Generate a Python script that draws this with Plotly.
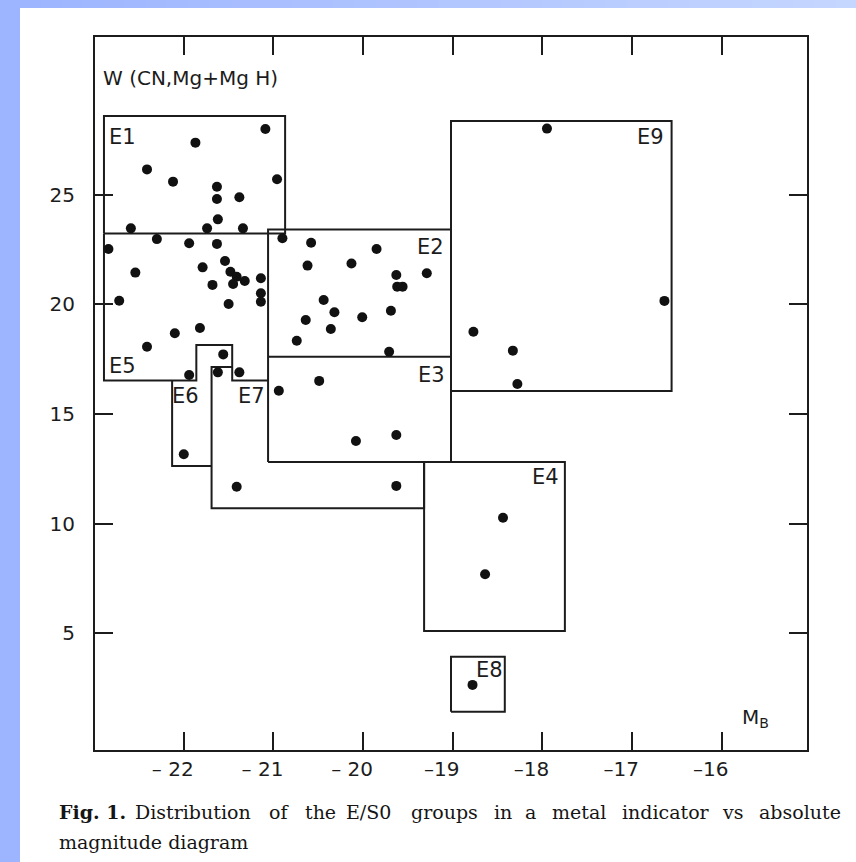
import plotly.graph_objects as go

# Absolute blue magnitude M_B and metal indicator W(CN, Mg+MgH) of the E/S0 sample
mag_b = [
    # E1
    -21.09, -21.87, -22.41, -22.12, -20.96, -21.63, -21.63, -21.38, -21.62, -22.59, -21.74, -21.34,
    # E5
    -22.30, -22.84, -21.94, -21.63, -21.54, -21.79, -22.54, -21.48, -21.41, -21.32, -21.45, -21.68,
    -21.14, -21.14, -21.14, -22.72, -21.50, -21.82, -22.10, -22.41, -21.56,
    # E6 / E7
    -21.94, -21.62, -21.38, -22.00, -21.41, -19.63,
    # E2
    -20.90, -20.58, -19.85, -20.62, -20.13, -19.63, -19.29, -19.62, -19.56, -20.44, -20.32, -20.01,
    -19.69, -20.64, -20.36, -20.74, -19.71,
    # E3
    -20.94, -20.49, -20.08, -19.63,
    # E9
    -17.95, -16.64, -18.77, -18.33, -18.28,
    # E4
    -18.44, -18.64,
    # E8
    -18.78,
]
w_index = [
    # E1
    28.00, 27.38, 26.16, 25.60, 25.71, 25.37, 24.81, 24.89, 23.88, 23.47, 23.47, 23.47,
    # E5
    22.98, 22.53, 22.79, 22.76, 21.98, 21.69, 21.45, 21.49, 21.26, 21.07, 20.93, 20.89,
    21.19, 20.51, 20.12, 20.17, 20.02, 18.92, 18.68, 18.07, 17.72,
    # E6 / E7
    16.78, 16.90, 16.90, 13.16, 11.68, 11.72,
    # E2
    23.02, 22.81, 22.53, 21.77, 21.87, 21.34, 21.42, 20.81, 20.81, 20.20, 19.64, 19.41,
    19.71, 19.29, 18.88, 18.34, 17.84,
    # E3
    16.06, 16.51, 13.77, 14.04,
    # E9
    28.02, 20.16, 18.75, 17.89, 16.37,
    # E4
    10.27, 7.69,
    # E8
    2.64,
]

# Group boundaries as polylines of (M_B, W) vertices
outline_paths = [
    [(-22.89, 23.23), (-22.89, 28.59), (-20.87, 28.59), (-20.87, 23.23), (-22.89, 23.23)],  # E1
    [(-22.89, 23.23), (-22.89, 16.53), (-21.86, 16.53), (-21.86, 18.15), (-21.46, 18.15),
     (-21.46, 16.53), (-21.06, 16.53)],                                                      # E5
    [(-21.06, 12.81), (-21.06, 23.42), (-19.02, 23.42), (-19.02, 12.81), (-21.06, 12.81)],  # E2 + E3
    [(-21.06, 17.61), (-19.02, 17.61)],                                                      # E2 / E3 divide
    [(-19.02, 16.05), (-16.56, 16.05), (-16.56, 28.37), (-19.02, 28.37), (-19.02, 16.05)],  # E9
    [(-22.13, 16.53), (-22.13, 12.63), (-21.69, 12.63)],                                     # E6
    [(-21.46, 17.14), (-21.69, 17.14), (-21.69, 10.70), (-19.32, 10.70), (-19.32, 12.81)],  # E7
    [(-19.32, 12.81), (-17.75, 12.81), (-17.75, 5.10), (-19.32, 5.10), (-19.32, 12.81)],    # E4
    [(-19.02, 1.42), (-18.42, 1.42), (-18.42, 3.93), (-19.02, 3.93), (-19.02, 1.42)],       # E8
]

group_names = ["E1", "E2", "E3", "E4", "E5", "E6", "E7", "E8", "E9"]

x_tick_values = [-22, -21, -20, -19, -18, -17, -16]
x_tick_labels = ["\u2013 22", "\u2013 21", "\u2013 20", "\u201319", "\u201318", "\u201317", "\u201316"]
y_tick_values = [5, 10, 15, 20, 25]
y_tick_labels = ["5", "10", "15", "20", "25"]

caption_words = ["<b>Fig. 1.</b>", "Distribution", "of", "the", "E/S0", "groups", "in", "a",
                 "metal", "indicator", "vs", "absolute"]
caption_line2 = "magnitude diagram"

# ---------------------------------------------------------------- layout helpers
W_PX, H_PX = 856, 862
PL, PR, PT, PB = 95, 807, 37, 750          # plot-area edges in pixels
INK = "#1c1c1c"


def px_x(px):
    return (px - PL) / (PR - PL)


def px_y(py):
    return (PB - py) / (PB - PT)


fig = go.Figure()

# group outlines
ox, oy = [], []
for path in outline_paths:
    ox += [p[0] for p in path] + [None]
    oy += [p[1] for p in path] + [None]
fig.add_trace(go.Scatter(x=ox, y=oy, mode="lines", line=dict(color=INK, width=2),
                         hoverinfo="skip", showlegend=False))

# galaxies
fig.add_trace(go.Scatter(x=mag_b, y=w_index, mode="markers",
                         marker=dict(color="#111111", size=10, line=dict(width=0)),
                         showlegend=False))

# group labels (left edge, vertical centre) in data units
label_pos = {
    "E1": (-22.86, 27.65), "E2": (-19.42, 22.63), "E3": (-19.41, 16.80),
    "E4": (-18.14, 12.14), "E5": (-22.86, 17.19), "E6": (-22.15, 15.81),
    "E7": (-21.42, 15.84), "E8": (-18.76, 3.33), "E9": (-16.97, 27.65),
}
annotations = []
for name in group_names:
    gx, gy = label_pos[name]
    annotations.append(dict(x=gx, y=gy, xref="x", yref="y", text=name, showarrow=False,
                            xanchor="left", yanchor="middle",
                            font=dict(family="DejaVu Sans", size=21, color=INK)))

# axis titles placed inside the frame
annotations.append(dict(x=px_x(101), y=px_y(78), xref="paper", yref="paper",
                        text="W (CN,Mg+Mg H)", showarrow=False, xanchor="left", yanchor="middle",
                        font=dict(family="DejaVu Sans", size=20, color=INK)))
annotations.append(dict(x=px_x(740), y=px_y(718), xref="paper", yref="paper",
                        text="M<sub>B</sub>", showarrow=False, xanchor="left", yanchor="middle",
                        font=dict(family="DejaVu Sans", size=20, color=INK)))

# justified caption, first line word by word
word_left = [57, 133, 267, 303, 344, 409, 492, 523, 550, 620, 720, 757]
for word, wx in zip(caption_words, word_left):
    annotations.append(dict(x=px_x(wx), y=px_y(812), xref="paper", yref="paper", text=word,
                            showarrow=False, xanchor="left", yanchor="middle",
                            font=dict(family="DejaVu Serif", size=19, color="#151515")))
annotations.append(dict(x=px_x(57), y=px_y(842), xref="paper", yref="paper", text=caption_line2,
                        showarrow=False, xanchor="left", yanchor="middle",
                        font=dict(family="DejaVu Serif", size=19, color="#151515")))

# slide-style blue border: solid left strip, graded top strip
shapes = [dict(type="rect", xref="paper", yref="paper", x0=px_x(0), x1=px_x(20),
               y0=px_y(H_PX), y1=px_y(0), fillcolor="#9db5ff", line=dict(width=0), layer="below")]
c0 = (157, 181, 255)
c1 = (197, 214, 255)
n_seg = 40
for i in range(n_seg):
    t = i / (n_seg - 1)
    col = "rgb({},{},{})".format(*[round(a + (b - a) * t) for a, b in zip(c0, c1)])
    xa = 20 + (W_PX - 20) * i / n_seg
    xb = 20 + (W_PX - 20) * (i + 1) / n_seg + 1
    shapes.append(dict(type="rect", xref="paper", yref="paper", x0=px_x(xa), x1=px_x(xb),
                       y0=px_y(8), y1=px_y(0), fillcolor=col, line=dict(width=0), layer="below"))

axis_common = dict(showline=True, linewidth=2, linecolor=INK, mirror="ticks", ticks="inside",
                   ticklen=18, tickwidth=2, tickcolor=INK, showgrid=False, zeroline=False,
                   tickfont=dict(family="DejaVu Sans", size=20, color=INK))

fig.update_layout(
    width=W_PX, height=H_PX,
    margin=dict(l=PL, r=W_PX - PR, t=PT, b=H_PX - PB, pad=0),
    paper_bgcolor="white", plot_bgcolor="white",
    showlegend=False,
    xaxis=dict(range=[-22.99, -15.05], tickmode="array", tickvals=x_tick_values,
               ticktext=x_tick_labels, ticklabelshift=-11, ticklabelstandoff=0, **axis_common),
    yaxis=dict(range=[-0.33, 32.2], tickmode="array", tickvals=y_tick_values,
               ticktext=y_tick_labels, ticklabelstandoff=14, **axis_common),
    annotations=annotations,
    shapes=shapes,
)

fig.write_html("out.html")
